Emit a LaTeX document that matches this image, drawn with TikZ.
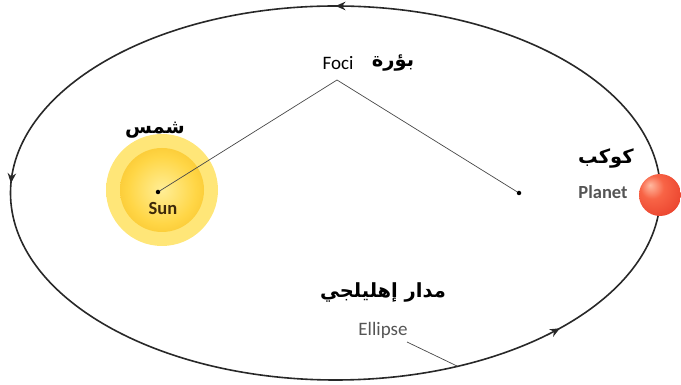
\documentclass[tikz,border=0pt]{standalone}
\usepackage{fontspec}
\setmainfont{Carlito}
\newfontfamily\arabicfont[Script=Arabic]{DejaVu Sans}
\TeXXeTstate=1
\usetikzlibrary{decorations.markings,arrows.meta}

\definecolor{orbitgray}{RGB}{40,40,40}
\definecolor{labelgray}{RGB}{85,85,85}
\definecolor{sunlabel}{RGB}{60,40,10}
\definecolor{glowyellow}{RGB}{255,230,120}
\definecolor{suncore}{RGB}{255,238,150}
\definecolor{sunmid}{RGB}{255,214,70}
\definecolor{sunedge}{RGB}{243,182,25}
\definecolor{planetlight}{RGB}{255,185,160}
\definecolor{planetmid}{RGB}{248,100,70}
\definecolor{planetred}{RGB}{232,62,42}
\definecolor{planetdark}{RGB}{200,40,25}

\pgfdeclareradialshading{sunglow}{\pgfpoint{0bp}{0bp}}{%
  color(0bp)=(glowyellow); color(37bp)=(glowyellow);
  color(41bp)=(glowyellow!55!white); color(45bp)=(glowyellow!22!white); color(50bp)=(white)}
\pgfdeclareradialshading{sunbody}{\pgfpoint{0bp}{0bp}}{%
  color(0bp)=(suncore); color(20bp)=(sunmid); color(40bp)=(sunedge); color(50bp)=(sunedge!80!glowyellow)}
\pgfdeclareradialshading{planetball}{\pgfpoint{-12bp}{12bp}}{%
  color(0bp)=(planetlight); color(14bp)=(planetmid); color(38bp)=(planetred); color(64bp)=(planetdark)}

\tikzset{
  orbit/.style={draw=orbitgray, line width=1.6pt},
  orbitarrow/.style={decoration={markings,
      mark=at position 0.25 with {\arrow{Stealth[length=10pt,width=8.5pt]}},
      mark=at position 0.494 with {\arrow{Stealth[length=10pt,width=8.5pt]}},
      mark=at position 0.892 with {\arrow{Stealth[length=10pt,width=8.5pt]}}},
    postaction=decorate},
  pointer/.style={draw=orbitgray!85, line width=0.7pt},
  focusdot/.style={circle, fill=black, inner sep=0pt, minimum size=4.5pt},
  artext/.style={font=\arabicfont\bfseries\fontsize{19.5}{22}\selectfont, text=black, inner sep=1pt},
  entext/.style={font=\fontsize{19}{22}\selectfont, inner sep=1pt},
  enbold/.style={font=\bfseries\fontsize{18.5}{22}\selectfont, inner sep=1pt},
}

\begin{document}
\begin{tikzpicture}[x=1pt,y=1pt]
  \useasboundingbox (0,0) rectangle (681,385);

  % orbit
  \draw[orbit, orbitarrow] (335.5,192) ellipse [x radius=325, y radius=187];

  % sun with a soft halo
  \shade[shading=sunglow] (162,195) circle (56);
  \shade[shading=sunbody] (162,195) circle (42);

  % planet
  \shade[shading=planetball] (660,190) circle (21);

  % foci
  \node[focusdot] (sundot) at (158,193) {};
  \node[focusdot] (farfocus) at (519,192) {};
  \coordinate (apex) at (337,305);
  \draw[pointer] (sundot) -- (apex) -- (farfocus);

  % labels
  \node[entext] (foci) at (338,322) {Foci};
  \node[artext] (focilabel) at (393,322) {\beginR بؤرة\endR};

  \node[artext] (sunar) at (155,255) {\beginR شمس\endR};
  \node[enbold, text=sunlabel] (sunname) at (163,176) {Sun};

  \node[artext] (planetar) at (606,227) {\beginR كوكب\endR};
  \node[enbold, text=labelgray] (planetname) at (603,193) {Planet};

  \node[artext] (orbitar) at (383,93) {\beginR مدار إهليلجي\endR};
  \node[entext, text=labelgray] (ellipsename) at (383,55) {Ellipse};
  \coordinate (orbitpoint) at (457,19);
  \draw[pointer] (407,43) -- (orbitpoint);
\end{tikzpicture}
\end{document}
